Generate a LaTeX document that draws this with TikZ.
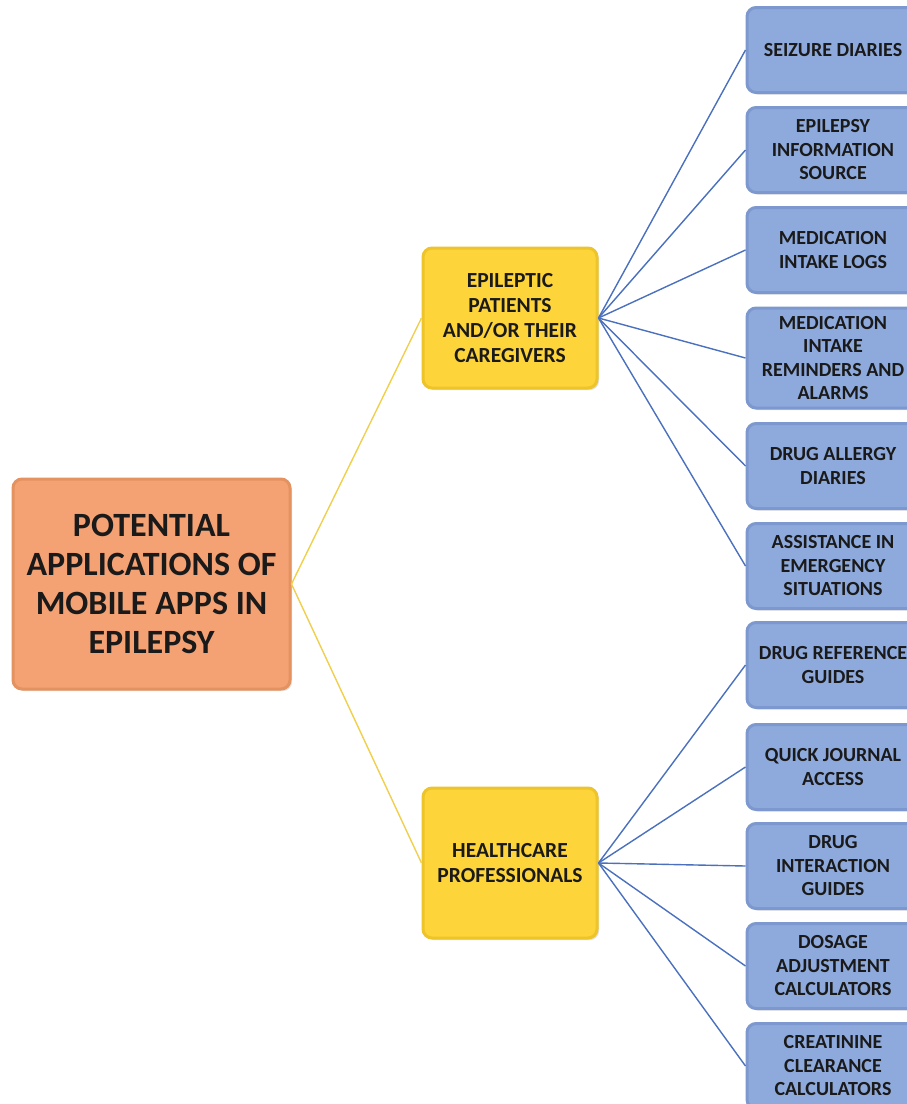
\documentclass[tikz,border=0pt]{standalone}
\usepackage{fontspec}
\setmainfont{Carlito}
\usetikzlibrary{shadows}
\definecolor{rootfill}{HTML}{F4A274}
\definecolor{rootedge}{HTML}{E4925F}
\definecolor{yelfill}{HTML}{FDD43A}
\definecolor{yeledge}{HTML}{EDC42A}
\definecolor{bluefill}{HTML}{8EAADC}
\definecolor{blueedge}{HTML}{7C98CE}
\definecolor{yline}{HTML}{F0CF4C}
\definecolor{bline}{HTML}{4A70BE}
\definecolor{txt}{HTML}{1A1A1A}
\begin{document}
\begin{tikzpicture}[x=1pt,y=-1pt,
  box/.style={rounded corners=9pt, align=center, text=txt, inner sep=0pt, line width=3pt,
    drop shadow={shadow xshift=2pt, shadow yshift=-2pt, opacity=0.25}},
  rootbox/.style={box, fill=rootfill, draw=rootedge, minimum width=277pt, minimum height=210pt,
    font=\fontsize{34}{39}\selectfont\bfseries},
  catbox/.style={box, fill=yelfill, draw=yeledge, minimum width=174pt,
    font=\fontsize{21.5}{25}\selectfont\bfseries},
  leafbox/.style={box, fill=bluefill, draw=blueedge, minimum width=172pt, minimum height=85pt,
    font=\fontsize{20}{23.5}\selectfont\bfseries},
  yconn/.style={draw=yline, line width=1.4pt},
  bconn/.style={draw=bline, line width=1.4pt}
]
\useasboundingbox (0,0) rectangle (907,1104);
\clip (0,0) rectangle (907,1104);

\node[rootbox] (root) at (151.5,584) {POTENTIAL\\APPLICATIONS OF\\MOBILE APPS IN\\EPILEPSY};

\node[catbox, minimum height=140pt] (pat) at (510,318) {EPILEPTIC\\PATIENTS\\AND/OR THEIR\\CAREGIVERS};
\node[catbox, minimum height=150pt] (hcp) at (510,863) {HEALTHCARE\\PROFESSIONALS};

\node[leafbox] (l1) at (833,50) {SEIZURE DIARIES};
\node[leafbox] (l2) at (833,150) {EPILEPSY\\INFORMATION\\SOURCE};
\node[leafbox] (l3) at (833,250) {MEDICATION\\INTAKE LOGS};
\node[leafbox, minimum height=100pt] (l4) at (833,358) {MEDICATION\\INTAKE\\REMINDERS AND\\ALARMS};
\node[leafbox] (l5) at (833,466) {DRUG ALLERGY\\DIARIES};
\node[leafbox] (l6) at (833,566) {ASSISTANCE IN\\EMERGENCY\\SITUATIONS};
\node[leafbox] (l7) at (833,665) {DRUG REFERENCE\\GUIDES};
\node[leafbox] (l8) at (833,767) {QUICK JOURNAL\\ACCESS};
\node[leafbox] (l9) at (833,866) {DRUG\\INTERACTION\\GUIDES};
\node[leafbox] (l10) at (833,966) {DOSAGE\\ADJUSTMENT\\CALCULATORS};
\node[leafbox] (l11) at (833,1066) {CREATININE\\CLEARANCE\\CALCULATORS};

\draw[yconn] (root.east) -- (pat.west);
\draw[yconn] (root.east) -- (hcp.west);
\foreach \n in {l1,l2,l3,l4,l5,l6}{\draw[bconn] (pat.east) -- (\n.west);}
\foreach \n in {l7,l8,l9,l10,l11}{\draw[bconn] (hcp.east) -- (\n.west);}
\end{tikzpicture}
\end{document}
